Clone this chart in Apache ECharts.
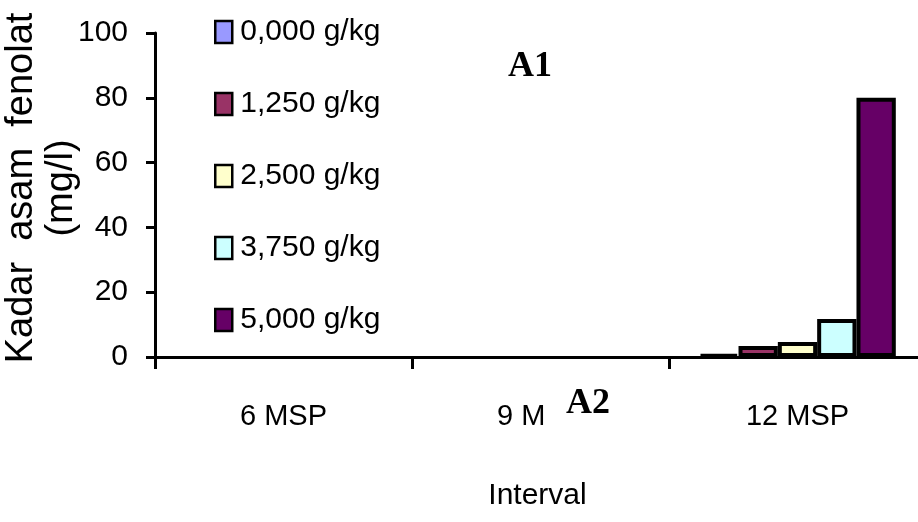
<!DOCTYPE html>
<html>
<head>
<meta charset="utf-8">
<script src="https://cdn.jsdelivr.net/npm/echarts@6/dist/echarts.min.js"></script>
<style>
  html, body { margin: 0; padding: 0; background: #ffffff; }
  #chart { width: 918px; height: 522px; }
</style>
</head>
<body>
<div id="chart"></div>
<script>
// Interval categories (months after planting)
const categories = ['6 MSP', '9 MSP', '12 MSP'];

// Dose series labels and their values (mg/l)
const seriesNames = ['0,000 g/kg', '1,250 g/kg', '2,500 g/kg', '3,750 g/kg', '5,000 g/kg'];
const dose0000 = [0, 0, 0.8];
const dose1250 = [0, 0, 3.4];
const dose2500 = [0, 0, 4.6];
const dose3750 = [0, 0, 11.7];
const dose5000 = [0, 0, 80];
const seriesColors = ['#9999FF', '#993366', '#FFFFCC', '#CCFFFF', '#660066'];

const yTicks = [0, 20, 40, 60, 80, 100];

const sans = '"Liberation Sans", Arial, sans-serif';
const serifBold = 'bold 36px "Liberation Serif", "Times New Roman", serif';

const chart = echarts.init(document.getElementById('chart'), null, { renderer: 'canvas' });

const values = [dose0000, dose1250, dose2500, dose3750, dose5000];

// Empty (zero) bars get no outline so nothing sits on the baseline.
const series = seriesNames.map((name, i) => ({
  name: name,
  type: 'bar',
  data: values[i].map(v => (v === 0 ? { value: v, itemStyle: { borderWidth: 0 } } : v)),
  barGap: '0%',
  barCategoryGap: '23.5%',
  itemStyle: { color: seriesColors[i], borderColor: '#000000', borderWidth: 4 },
  emphasis: { disabled: true },
  animation: false
}));

chart.setOption({
  animation: false,
  backgroundColor: '#ffffff',
  grid: { left: 155, top: 33, right: -8, bottom: 165, containLabel: false, outerBoundsMode: 'none' },
  legend: {
    orient: 'vertical',
    left: 209,
    top: 10,
    itemWidth: 17,
    itemHeight: 22,
    itemGap: 38,
    icon: 'rect',
    data: seriesNames,
    itemStyle: { borderColor: '#000000', borderWidth: 2.5 },
    textStyle: { fontFamily: sans, fontSize: 30, lineHeight: 34, color: '#000000', padding: [0, 0, 0, 3] }
  },
  xAxis: {
    type: 'category',
    data: categories,
    boundaryGap: true,
    axisLine: { lineStyle: { color: '#000000', width: 3 } },
    axisTick: { show: true, length: 12, lineStyle: { color: '#000000', width: 3 } },
    axisLabel: { fontFamily: sans, fontSize: 29, color: '#000000', margin: 45 },
    name: 'Interval',
    nameLocation: 'middle',
    nameGap: 124,
    nameMoveOverlap: false,
    nameTextStyle: { fontFamily: sans, fontSize: 30, color: '#000000', padding: [0, 6, 0, 0] }
  },
  yAxis: {
    type: 'value',
    min: yTicks[0],
    max: yTicks[yTicks.length - 1],
    interval: 20,
    splitLine: { show: false },
    axisLine: { show: true, lineStyle: { color: '#000000', width: 3 } },
    axisTick: { show: true, length: 9, lineStyle: { color: '#000000', width: 3 } },
    axisLabel: { fontFamily: sans, fontSize: 30, color: '#000000', margin: 27 },
    name: 'Kadar  asam  fenolat\n(mg/l)',
    nameLocation: 'middle',
    nameGap: 73,
    nameMoveOverlap: false,
    nameRotate: 90,
    nameTextStyle: {
      fontFamily: sans, fontSize: 38, color: '#000000', lineHeight: 40, align: 'center',
      padding: [0, 0, 0, 14]
    }
  },
  graphic: [
    {
      type: 'text',
      left: 508,
      top: 49,
      style: { text: 'A1', font: serifBold, fill: '#000000' }
    },
    {
      type: 'text',
      left: 546,
      top: 384,
      z: 100,
      style: {
        text: 'A2',
        font: serifBold,
        fill: '#000000',
        backgroundColor: '#ffffff',
        padding: [2, 16, 10, 20]
      }
    }
  ],
  series: series
});
</script>
</body>
</html>
